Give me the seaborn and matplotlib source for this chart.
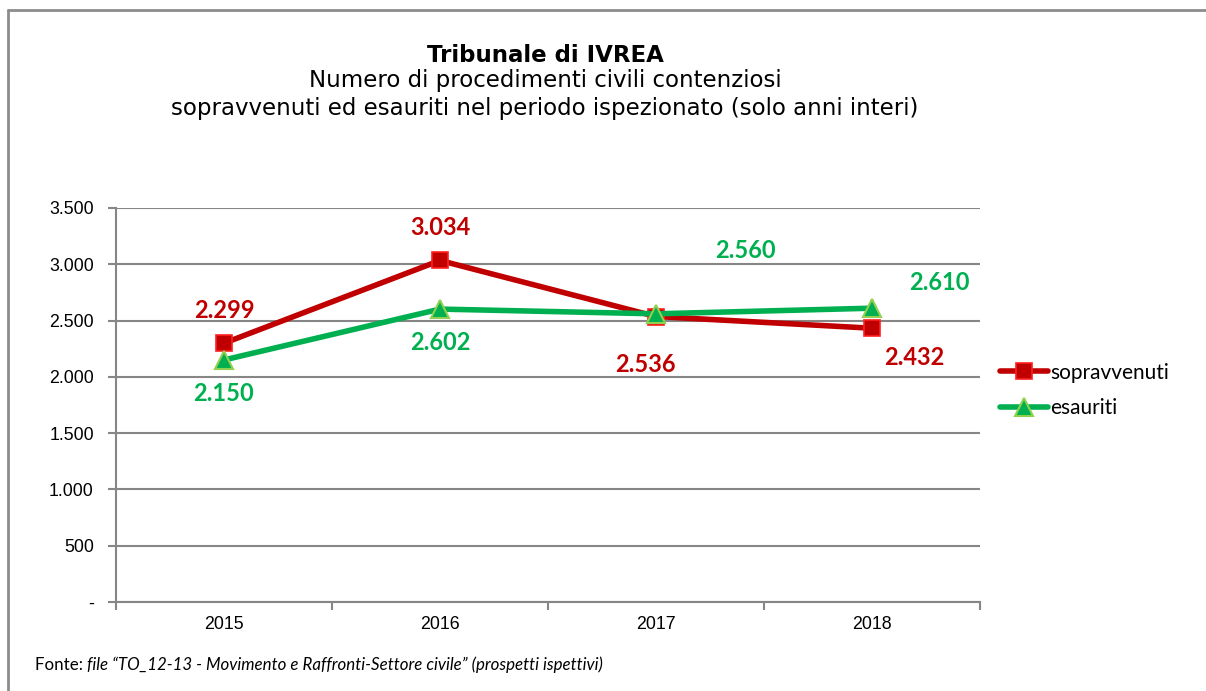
import matplotlib
matplotlib.use("Agg")
import matplotlib.pyplot as plt
from matplotlib.lines import Line2D
from matplotlib.ticker import FuncFormatter, FixedLocator
import seaborn as sns
import pandas as pd

# ---- data ----
years = ["2015", "2016", "2017", "2018"]
sopravvenuti = [2299, 3034, 2536, 2432]
esauriti = [2150, 2602, 2560, 2610]
series_names = ["sopravvenuti", "esauriti"]
yticks = [0, 500, 1000, 1500, 2000, 2500, 3000, 3500]

title = "Tribunale di IVREA"
subtitle1 = "Numero di procedimenti civili contenziosi"
subtitle2 = "sopravvenuti ed esauriti nel periodo ispezionato (solo anni interi)"
source_prefix = "Fonte: "
source_text = "file \u201cTO_12-13 - Movimento e Raffronti-Settore civile\u201d (prospetti ispettivi)"

RED = "#C00000"
RED_EDGE = "#FF2020"
GREEN = "#00B050"
GREEN_EDGE = "#92D050"
GRID = "#868686"

def fmt(v):
    return f"{int(v):,}".replace(",", ".")

sns.set_theme(style="white")
plt.rcParams["font.family"] = ["DejaVu Sans"]
plt.rcParams["text.color"] = "black"

W, H = 1206, 691
fig = plt.figure(figsize=(W / 100, H / 100), dpi=100)
ax = fig.add_axes([116 / W, 89 / H, 864 / W, 394 / H])

df = pd.DataFrame({"anno": years, series_names[0]: sopravvenuti, series_names[1]: esauriti})

sns.lineplot(data=df, x="anno", y=series_names[0], ax=ax, color=RED, lw=4,
             marker="s", markersize=12, markerfacecolor=RED, markeredgecolor=RED_EDGE,
             markeredgewidth=1.2, label=series_names[0], sort=False, zorder=3)
sns.lineplot(data=df, x="anno", y=series_names[1], ax=ax, color=GREEN, lw=4,
             marker="^", markersize=13, markerfacecolor=GREEN, markeredgecolor=GREEN_EDGE,
             markeredgewidth=1.5, label=series_names[1], sort=False, zorder=4)

ax.set_xlim(-0.5, len(years) - 0.5)
ax.set_ylim(0, 3500)
ax.set_xlabel("")
ax.set_ylabel("")

# y axis
ax.yaxis.set_major_locator(FixedLocator(yticks))
ax.yaxis.set_major_formatter(FuncFormatter(lambda v, p: "-" if v == 0 else fmt(v)))
ax.yaxis.grid(True, color=GRID, lw=1.5)
ax.xaxis.grid(False)
ax.set_axisbelow(True)

# x axis: labels at category centres, tick marks at band boundaries
ax.set_xticks(range(len(years)))
ax.set_xticklabels(years)
ax.set_xticks([i - 0.5 for i in range(len(years) + 1)], minor=True)
ax.tick_params(axis="x", which="major", length=0, pad=10, labelsize=12.8, labelcolor="black")
ax.tick_params(axis="x", which="minor", length=6, width=1.5, color=GRID, direction="out", bottom=True)
ax.tick_params(axis="y", which="major", length=6, width=1.5, color=GRID, direction="out",
               left=True, pad=10, labelsize=12.8, labelcolor="black")
for lab in ax.get_xticklabels() + ax.get_yticklabels():
    lab.set_fontfamily("Liberation Sans")

for s in ["top", "right"]:
    ax.spines[s].set_visible(False)
for s in ["left", "bottom"]:
    ax.spines[s].set_color(GRID)
    ax.spines[s].set_linewidth(1.5)

# data labels (offsets in pixels)
sop_offsets = [(0, 33), (0, 33), (-11, -48), (42, -29)]
esa_offsets = [(0, -34), (0, -33), (89, 63), (67, 26)]
for i, (v, off) in enumerate(zip(sopravvenuti, sop_offsets)):
    ax.annotate(fmt(v), (i, v), xytext=off, textcoords="offset pixels", ha="center", va="center",
                color=RED, fontsize=17, fontweight="bold", fontfamily="Lato", zorder=6)
for i, (v, off) in enumerate(zip(esauriti, esa_offsets)):
    ax.annotate(fmt(v), (i, v), xytext=off, textcoords="offset pixels", ha="center", va="center",
                color=GREEN, fontsize=17, fontweight="bold", fontfamily="Lato", zorder=6)

# legend
leg = ax.legend(loc="center left", bbox_to_anchor=(1000 / W, (H - 390.5) / H),
                bbox_transform=fig.transFigure, frameon=False, borderaxespad=0, borderpad=0,
                handlelength=2.3, handletextpad=0.1, labelspacing=0.75,
                prop={"family": "Lato", "size": 15})
for txt in leg.get_texts():
    txt.set_color("black")

# titles
fig.text(545 / W, 1 - 56 / H, title, ha="center", va="center", fontsize=16.5, fontweight="bold", color="black")
fig.text(545 / W, 1 - 81 / H, subtitle1, ha="center", va="center", fontsize=16.5, color="black")
fig.text(545 / W, 1 - 108 / H, subtitle2, ha="center", va="center", fontsize=16.5, color="black")

# source note
t1 = fig.text(35 / W, 1 - 665 / H, source_prefix, ha="left", va="center", fontsize=12.2,
              fontfamily="Lato", color="black")
ax.annotate(source_text, xy=(1, 0.5), xycoords=t1, ha="left", va="center", fontsize=12.2,
            fontfamily="Lato", fontstyle="italic", color="black", annotation_clip=False)

# outer frame (top and left edges)
fig.add_artist(Line2D([8 / W, 8 / W], [0, 1 - 10 / H], transform=fig.transFigure, color="#8C8C8C", lw=2))
fig.add_artist(Line2D([8 / W, 1], [1 - 10 / H, 1 - 10 / H], transform=fig.transFigure, color="#8C8C8C", lw=2))

fig.savefig("out.png", dpi=100, facecolor="white")
